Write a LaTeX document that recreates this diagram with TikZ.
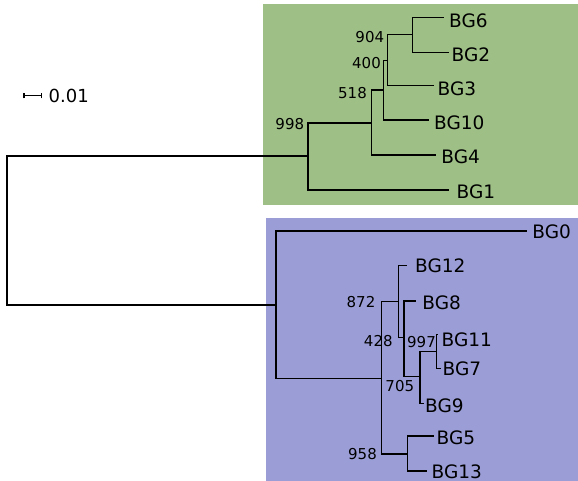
\documentclass[tikz,border=0pt]{standalone}
\usepackage{fontspec}
\setmainfont{DejaVu Sans}
\definecolor{cladegreen}{RGB}{158,191,134}
\definecolor{cladeblue}{RGB}{155,157,215}
\tikzset{
  branch/.style={line width=1.5pt, line cap=rect},
  leaf/.style={anchor=west, inner sep=0pt, font=\fontsize{18.5}{20}\selectfont},
  support/.style={anchor=east, inner sep=0pt, font=\fontsize{15}{16}\selectfont},
}
\begin{document}
\begin{tikzpicture}[x=1pt,y=-1pt]
\useasboundingbox (0,0) rectangle (578,481);
% clade backgrounds
\fill[cladegreen] (263,4) rectangle (578,205);
\fill[cladeblue] (265.5,217.5) rectangle (578,481);

% internal nodes
\coordinate (root) at (7,230.5);
\coordinate (G) at (308,156);
\coordinate (A) at (371.7,123);
\coordinate (N) at (383.3,90);
\coordinate (B) at (387.7,60.7);
\coordinate (C) at (412.3,34.3);
\coordinate (K) at (276,305);
\coordinate (X) at (381.7,378.3);
\coordinate (P) at (398.3,301.7);
\coordinate (Y) at (404,337.7);
\coordinate (Z) at (420,376.7);
\coordinate (W) at (436.7,351.7);
\coordinate (Q) at (407.7,454);

% leaf ends
\coordinate (e6) at (443,17.7);
\coordinate (e2) at (448,52.3);
\coordinate (e3) at (433,85.7);
\coordinate (e10) at (428,120);
\coordinate (e4) at (435,155);
\coordinate (e1) at (448,190);
\coordinate (e0) at (526.7,231);
\coordinate (e12) at (406.7,265.7);
\coordinate (e8) at (415,301);
\coordinate (e11) at (437.5,334.3);
\coordinate (e7) at (440,368.3);
\coordinate (e9) at (423.3,403.3);
\coordinate (e5) at (433.3,436);
\coordinate (e13) at (426.7,471);

% branches
\draw[branch] (root) |- (G);
\draw[branch] (root) |- (K);
\draw[branch] (G) |- (A);
\draw[branch] (G) |- (e1);
\draw[branch] (A) |- (N);
\draw[branch] (A) |- (e4);
\draw[branch] (N) |- (B);
\draw[branch] (N) |- (e10);
\draw[branch] (B) |- (C);
\draw[branch] (B) |- (e3);
\draw[branch] (C) |- (e6);
\draw[branch] (C) |- (e2);
\draw[branch] (K) |- (e0);
\draw[branch] (K) |- (X);
\draw[branch] (X) |- (P);
\draw[branch] (X) |- (Q);
\draw[branch] (P) |- (e12);
\draw[branch] (P) |- (Y);
\draw[branch] (Y) |- (e8);
\draw[branch] (Y) |- (Z);
\draw[branch] (Z) |- (W);
\draw[branch] (Z) |- (e9);
\draw[branch] (W) |- (e11);
\draw[branch] (W) |- (e7);
\draw[branch] (Q) |- (e5);
\draw[branch] (Q) |- (e13);

% leaf labels
\node[leaf] (BG6) at (449,20.7) {BG6};
\node[leaf] (BG2) at (451.5,55) {BG2};
\node[leaf] (BG3) at (437.5,89) {BG3};
\node[leaf] (BG10) at (434,122.7) {BG10};
\node[leaf] (BG4) at (441.2,156.7) {BG4};
\node[leaf] (BG1) at (456.5,191.7) {BG1};
\node[leaf] (BG0) at (532.2,231.7) {BG0};
\node[leaf] (BG12) at (415,265.7) {BG12};
\node[leaf] (BG8) at (422.2,302.3) {BG8};
\node[leaf] (BG11) at (441.5,340) {BG11};
\node[leaf] (BG7) at (442.5,369) {BG7};
\node[leaf] (BG9) at (425,405.7) {BG9};
\node[leaf] (BG5) at (436.5,437.7) {BG5};
\node[leaf] (BG13) at (431.5,471.8) {BG13};

% support values
\node[support] (s904) at (384.3,37) {904};
\node[support] (s400) at (381,63) {400};
\node[support] (s518) at (367,93) {518};
\node[support] (s998) at (304.3,124) {998};
\node[support] (s872) at (375.5,302) {872};
\node[support] (s428) at (392.8,341) {428};
\node[support] (s997) at (436,342) {997};
\node[support] (s705) at (414.3,386.5) {705};
\node[support] (s958) at (377,454.5) {958};

% scale bar
\coordinate (sb1) at (24,95.7);
\coordinate (sb2) at (41.7,95.7);
\draw[line width=1.5pt] (sb1) -- (sb2);
\draw[line width=1.2pt] ([yshift=-2.8pt]sb1) -- ([yshift=2.8pt]sb1);
\draw[line width=1.2pt] ([yshift=-2.8pt]sb2) -- ([yshift=2.8pt]sb2);
\node[leaf, font=\fontsize{18}{20}\selectfont] (scale) at (48.5,95.7) {0.01};
\end{tikzpicture}
\end{document}
